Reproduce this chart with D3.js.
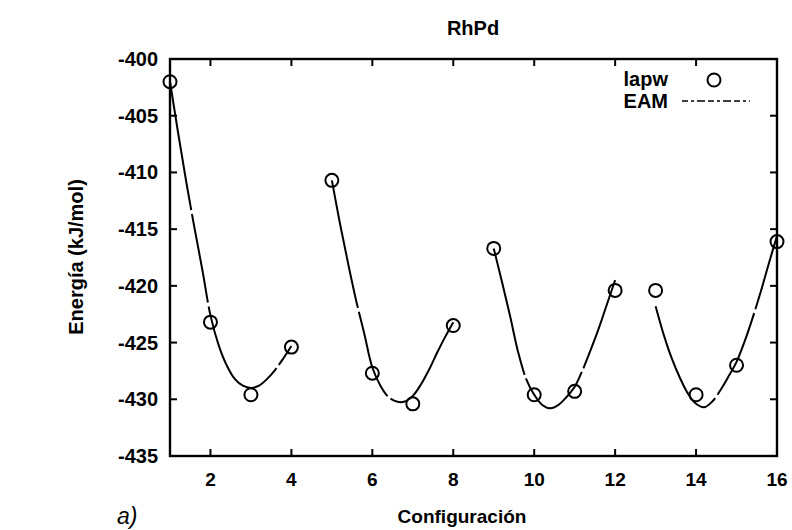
<!DOCTYPE html>
<html>
<head>
<meta charset="utf-8">
<script src="https://cdn.jsdelivr.net/npm/d3@7"></script>
<style>
    body { margin: 0; background: #fff; }
    text { font-family: "Liberation Sans", Arial, sans-serif; fill: #000; }
</style>
</head>
<body>
<svg id="chart" width="792" height="530"></svg>
<script>
// lapw points, configuracion 1..16
var configs = [1, 2, 3, 4, 5, 6, 7, 8, 9, 10, 11, 12, 13, 14, 15, 16];
var lapw = [-402.0, -423.2, -429.6, -425.4, -410.7, -427.7, -430.4, -423.5,
    -416.7, -429.6, -429.3, -420.4, -420.4, -429.6, -427.0, -416.1];

// EAM curves, one per group
var eam1 = [[1.0, -402.0], [1.2, -406.5], [1.4, -410.8], [1.6, -414.8], [1.8, -418.6], [2.0, -422.6],
    [2.2, -425.2], [2.4, -427.0], [2.6, -428.2], [2.8, -428.8], [3.0, -429.0], [3.2, -428.8],
    [3.4, -428.2], [3.6, -427.4], [3.8, -426.4], [4.0, -425.3]];
var eam2 = [[5.0, -410.7], [5.2, -414.5], [5.4, -418.0], [5.6, -421.3], [5.8, -424.2], [6.0, -427.2],
    [6.2, -428.8], [6.4, -429.8], [6.6, -430.2], [6.8, -430.2], [7.0, -429.7], [7.2, -428.7],
    [7.4, -427.4], [7.6, -425.9], [7.8, -424.5], [8.0, -423.2]];
var eam3 = [[9.0, -416.7], [9.2, -419.6], [9.4, -422.6], [9.6, -425.8], [9.8, -428.2], [10.0, -429.6],
    [10.2, -430.5], [10.4, -430.8], [10.6, -430.5], [10.8, -429.8], [11.0, -428.9], [11.2, -427.4],
    [11.4, -425.6], [11.6, -423.7], [11.8, -421.6], [12.0, -419.5]];
var eam4 = [[13.0, -421.8], [13.2, -424.3], [13.4, -426.4], [13.6, -428.1], [13.8, -429.5], [14.0, -430.4],
    [14.2, -430.7], [14.4, -430.2], [14.6, -429.2], [14.8, -428.0], [15.0, -426.7], [15.2, -424.9],
    [15.4, -422.8], [15.6, -420.5], [15.8, -418.0], [16.0, -415.6]];

var xTicks = [2, 4, 6, 8, 10, 12, 14, 16];
var yTicks = [-400, -405, -410, -415, -420, -425, -430, -435];

var svg = d3.select("#chart");
var x = d3.scaleLinear().domain([1, 16]).range([170, 777]);
var y = d3.scaleLinear().domain([-435, -400]).range([456, 59]);

var g = svg.append('g');

// frame
g.append('rect').attr('x', x(1)).attr('y', y(-400))
    .attr('width', x(16) - x(1)).attr('height', y(-435) - y(-400))
    .attr('fill', 'none').attr('stroke', '#000').attr('stroke-width', 2.4);

// inward ticks, both sides
var tl = 7;
g.append('g').selectAll('line').data(xTicks.slice(0, -1)).enter().append('line')
    .attr('x1', function (d) { return x(d); }).attr('x2', function (d) { return x(d); })
    .attr('y1', y(-435)).attr('y2', y(-435) - tl)
    .attr('stroke', '#000').attr('stroke-width', 2);
g.append('g').selectAll('line').data(xTicks.slice(0, -1)).enter().append('line')
    .attr('x1', function (d) { return x(d); }).attr('x2', function (d) { return x(d); })
    .attr('y1', y(-400)).attr('y2', y(-400) + tl)
    .attr('stroke', '#000').attr('stroke-width', 2);
g.append('g').selectAll('line').data(yTicks.slice(1, -1)).enter().append('line')
    .attr('x1', x(1)).attr('x2', x(1) + tl)
    .attr('y1', function (d) { return y(d); }).attr('y2', function (d) { return y(d); })
    .attr('stroke', '#000').attr('stroke-width', 2);
g.append('g').selectAll('line').data(yTicks.slice(1, -1)).enter().append('line')
    .attr('x1', x(16)).attr('x2', x(16) - tl)
    .attr('y1', function (d) { return y(d); }).attr('y2', function (d) { return y(d); })
    .attr('stroke', '#000').attr('stroke-width', 2);

// tick labels
g.append('g').selectAll('text').data(yTicks).enter().append('text')
    .attr('x', x(1) - 12).attr('y', function (d) { return y(d) + 7; })
    .attr('text-anchor', 'end').attr('font-size', 20).attr('font-weight', 'bold')
    .text(function (d) { return d; });
g.append('g').selectAll('text').data(xTicks).enter().append('text')
    .attr('x', function (d) { return x(d); }).attr('y', 486)
    .attr('text-anchor', 'middle').attr('font-size', 19).attr('font-weight', 'bold')
    .text(function (d) { return d; });

// titles
svg.append('text').attr('x', 473).attr('y', 35).attr('text-anchor', 'middle')
    .attr('font-size', 20).attr('font-weight', 'bold').text('RhPd');
svg.append('text').attr('x', 462).attr('y', 523).attr('text-anchor', 'middle')
    .attr('font-size', 19).attr('font-weight', 'bold').text('Configuración');
svg.append('text').attr('transform', 'translate(83,257) rotate(-90)').attr('text-anchor', 'middle')
    .attr('font-size', 20).attr('font-weight', 'bold').text('Energía (kJ/mol)');
svg.append('text').attr('x', 117).attr('y', 524)
    .attr('font-size', 23).attr('font-style', 'italic').text('a)');

// EAM curves
var line = d3.line()
    .x(function (d) { return x(d[0]); })
    .y(function (d) { return y(d[1]); })
    .curve(d3.curveCatmullRom);
g.append('g').selectAll('path').data([eam1, eam2, eam3, eam4]).enter().append('path')
    .attr('d', line).attr('fill', 'none').attr('stroke', '#000')
    .attr('stroke-width', 2).attr('stroke-dasharray', '130,4,90,4');

// lapw circles
g.append('g').selectAll('circle').data(configs).enter().append('circle')
    .attr('cx', function (d) { return x(d); })
    .attr('cy', function (d, i) { return y(lapw[i]); })
    .attr('r', 6.5).attr('fill', 'none').attr('stroke', '#000').attr('stroke-width', 2);

// legend
var lg = svg.append('g');
lg.append('text').attr('x', 668).attr('y', 86).attr('text-anchor', 'end')
    .attr('font-size', 20).attr('font-weight', 'bold').text('lapw');
lg.append('circle').attr('cx', 714).attr('cy', 80).attr('r', 6.5)
    .attr('fill', 'none').attr('stroke', '#000').attr('stroke-width', 2);
lg.append('text').attr('x', 668).attr('y', 108).attr('text-anchor', 'end')
    .attr('font-size', 20).attr('font-weight', 'bold').text('EAM');
lg.append('line').attr('x1', 682).attr('x2', 750).attr('y1', 101).attr('y2', 101)
    .attr('stroke', '#000').attr('stroke-width', 1.5).attr('stroke-dasharray', '6,3,3,3,8,3');
</script>
</body>
</html>
